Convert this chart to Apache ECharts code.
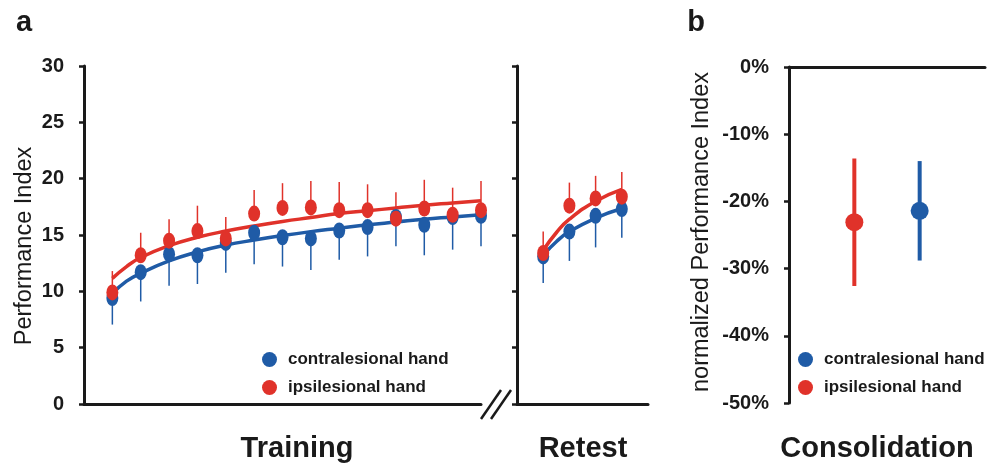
<!DOCTYPE html>
<html>
<head>
<meta charset="utf-8">
<script src="https://cdn.jsdelivr.net/npm/echarts@6/dist/echarts.min.js"></script>
<style>
  html, body { margin: 0; padding: 0; background: #fff; }
  #chart { width: 987px; height: 465px; }
</style>
</head>
<body>
<div id="chart"></div>
<script>
// 数据：训练阶段（14 个区块）
var trainX = [1, 2, 3, 4, 5, 6, 7, 8, 9, 10, 11, 12, 13, 14];
var trainBlue = [9.4, 11.7, 13.3, 13.2, 14.3, 15.2, 14.8, 14.7, 15.4, 15.7, 16.6, 15.9, 16.6, 16.7];
var trainBlueErr = [2.35, 2.6, 2.8, 2.55, 2.65, 2.8, 2.6, 2.8, 2.6, 2.6, 2.6, 2.7, 2.9, 2.7];
var trainRed = [9.9, 13.2, 14.5, 15.35, 14.7, 16.9, 17.4, 17.45, 17.2, 17.2, 16.45, 17.35, 16.8, 17.2];
var trainRedErr = [1.9, 2.0, 1.9, 2.25, 1.9, 2.1, 2.2, 2.35, 2.5, 2.3, 2.35, 2.55, 2.4, 2.6];
// 拟合曲线
var trainFitX = [1, 1.5, 2, 3, 4, 5, 6, 7, 8, 9, 10, 11, 12, 13, 14];
var trainBlueFit = [9.8, 10.9, 11.6, 12.7, 13.5, 14.1, 14.55, 14.95, 15.3, 15.6, 15.9, 16.15, 16.4, 16.6, 16.8];
var trainRedFit = [11.15, 12.2, 13.0, 14.05, 14.8, 15.35, 15.8, 16.2, 16.55, 16.9, 17.15, 17.4, 17.65, 17.85, 18.05];

// 复测
var retestX = [1, 2, 3, 4];
var retestBlue = [13.1, 15.3, 16.7, 17.3];
var retestBlueErr = [2.35, 2.6, 2.8, 2.55];
var retestRed = [13.4, 17.6, 18.25, 18.4];
var retestRedErr = [1.9, 2.05, 2.0, 2.2];
var retestFitX = [1, 1.5, 2, 3, 4];
var retestBlueFit = [13.2, 14.4, 15.3, 16.5, 17.35];
var retestRedFit = [13.65, 15.2, 16.4, 18.0, 19.05];

// 巩固 (b)
var consolX = [1, 2];
var consolMean = [-23.1, -21.4];
var consolErr = [9.5, 7.4];

var RED = '#e0322a';
var BLUE = '#1f5ba6';
var INK = '#1a1a1a';
var FONT = 'Liberation Sans, Arial, Helvetica, sans-serif';

function pairs(xs, ys, es) {
  return xs.map(function (x, i) { return es ? [x, ys[i], es[i]] : [x, ys[i]]; });
}

// dir: -1 向下, 1 向上, 0 双向
function errBar(dir, w) {
  return function (params, api) {
    var x = api.value(0), y = api.value(1), e = api.value(2);
    var lo = dir > 0 ? y : y - e;
    var hi = dir < 0 ? y : y + e;
    var p0 = api.coord([x, lo]);
    var p1 = api.coord([x, hi]);
    return {
      type: 'line',
      shape: { x1: p0[0], y1: p0[1], x2: p1[0], y2: p1[1] },
      style: { stroke: api.visual('color'), lineWidth: w }
    };
  };
}

function xAx(grid, max, pos) {
  return {
    gridIndex: grid, type: 'value', min: 0, max: max, position: pos || 'bottom',
    axisLine: { show: true, onZero: false, lineStyle: { color: INK, width: 3 } },
    axisTick: { show: false }, axisLabel: { show: false }, splitLine: { show: false }
  };
}

function yAx(grid, min, max, interval, labels, fmt, name, gap, namePad) {
  return {
    gridIndex: grid, type: 'value', min: min, max: max, interval: interval,
    axisLine: { show: true, onZero: false, lineStyle: { color: INK, width: 3 } },
    axisTick: { show: true, inside: false, length: 5, lineStyle: { color: INK, width: 2.5 } },
    axisLabel: { show: labels, formatter: fmt, margin: 20, color: INK, fontSize: 20, fontWeight: 'bold', fontFamily: FONT },
    splitLine: { show: false },
    name: name, nameLocation: 'middle', nameGap: gap,
    nameTextStyle: { color: INK, fontSize: 23.5, fontFamily: FONT, padding: namePad || 0 }
  };
}

function legendAt(left) {
  return {
    left: left, top: 351, orient: 'vertical', padding: 0, itemGap: 11,
    itemWidth: 15, itemHeight: 15, icon: 'circle', selectedMode: false,
    data: ['contralesional hand', 'ipsilesional hand'],
    textStyle: { color: INK, fontSize: 17, fontWeight: 'bold', fontFamily: FONT, padding: [0, 0, 0, 6] }
  };
}

function dots(name, grid, data, color, size, z) {
  return { type: 'scatter', name: name, xAxisIndex: grid, yAxisIndex: grid, z: z, symbolSize: size,
    itemStyle: { color: color, opacity: 1 }, data: data };
}

function fit(name, grid, data, color) {
  return { type: 'line', name: name, xAxisIndex: grid, yAxisIndex: grid, z: 2, smooth: true, showSymbol: false,
    lineStyle: { color: color, width: 3.5 }, itemStyle: { color: color }, data: data };
}

function bars(name, grid, data, color, dir, w) {
  return { type: 'custom', name: name, xAxisIndex: grid, yAxisIndex: grid, z: 1, itemStyle: { color: color },
    renderItem: errBar(dir, w), data: data };
}

var C = 'contralesional hand', I = 'ipsilesional hand';

var myChart = echarts.init(document.getElementById('chart'));

var option = {
  animation: false,
  backgroundColor: '#fff',
  legend: [legendAt(262), legendAt(798)],
  grid: [
    { left: 84, top: 66, width: 397, height: 338 },
    { left: 517, top: 66, width: 131, height: 338 },
    { left: 789, top: 67, width: 196, height: 336 }
  ],
  xAxis: [xAx(0, 14), xAx(1, 5), xAx(2, 3, 'top')],
  yAxis: [
    yAx(0, 0, 30, 5, true, '{value}', 'Performance Index', 47, [0, 22, 0, 0]),
    yAx(1, 0, 30, 5, false, '{value}', '', 0),
    yAx(2, -50, 0, 10, true, '{value}%', 'normalized Performance Index', 75, [0, 0, 0, 6])
  ],
  series: [
    // 训练
    bars(C, 0, pairs(trainX, trainBlue, trainBlueErr), BLUE, -1, 1.5),
    bars(I, 0, pairs(trainX, trainRed, trainRedErr), RED, 1, 1.5),
    fit(C, 0, pairs(trainFitX, trainBlueFit), BLUE),
    fit(I, 0, pairs(trainFitX, trainRedFit), RED),
    dots(C, 0, pairs(trainX, trainBlue), BLUE, [12, 16], 3),
    dots(I, 0, pairs(trainX, trainRed), RED, [12, 16], 4),
    // 复测
    bars(C, 1, pairs(retestX, retestBlue, retestBlueErr), BLUE, -1, 1.5),
    bars(I, 1, pairs(retestX, retestRed, retestRedErr), RED, 1, 1.5),
    fit(C, 1, pairs(retestFitX, retestBlueFit), BLUE),
    fit(I, 1, pairs(retestFitX, retestRedFit), RED),
    dots(C, 1, pairs(retestX, retestBlue), BLUE, [12, 16], 3),
    dots(I, 1, pairs(retestX, retestRed), RED, [12, 16], 4),
    // 巩固
    bars(I, 2, [[consolX[0], consolMean[0], consolErr[0]]], RED, 0, 4),
    bars(C, 2, [[consolX[1], consolMean[1], consolErr[1]]], BLUE, 0, 4),
    dots(I, 2, [[consolX[0], consolMean[0]]], RED, 18, 3),
    dots(C, 2, [[consolX[1], consolMean[1]]], BLUE, 18, 3)
  ],
  graphic: [
    { type: 'text', style: { text: 'a', x: 24, y: 23, textAlign: 'center', textVerticalAlign: 'middle', font: 'bold 29px ' + FONT, fill: INK } },
    { type: 'text', style: { text: 'b', x: 696, y: 23, textAlign: 'center', textVerticalAlign: 'middle', font: 'bold 29px ' + FONT, fill: INK } },
    { type: 'text', style: { text: 'Training', x: 297, y: 449, textAlign: 'center', textVerticalAlign: 'middle', font: 'bold 29px ' + FONT, fill: INK } },
    { type: 'text', style: { text: 'Retest', x: 583, y: 449, textAlign: 'center', textVerticalAlign: 'middle', font: 'bold 29px ' + FONT, fill: INK } },
    { type: 'text', style: { text: 'Consolidation', x: 877, y: 449, textAlign: 'center', textVerticalAlign: 'middle', font: 'bold 29px ' + FONT, fill: INK } },
    // 坐标轴断开标记
    { type: 'line', shape: { x1: 481, y1: 419, x2: 501, y2: 390 }, style: { stroke: INK, lineWidth: 2.5 } },
    { type: 'line', shape: { x1: 491, y1: 419, x2: 511, y2: 390 }, style: { stroke: INK, lineWidth: 2.5 } }
  ]
};

myChart.setOption(option);
</script>
</body>
</html>
